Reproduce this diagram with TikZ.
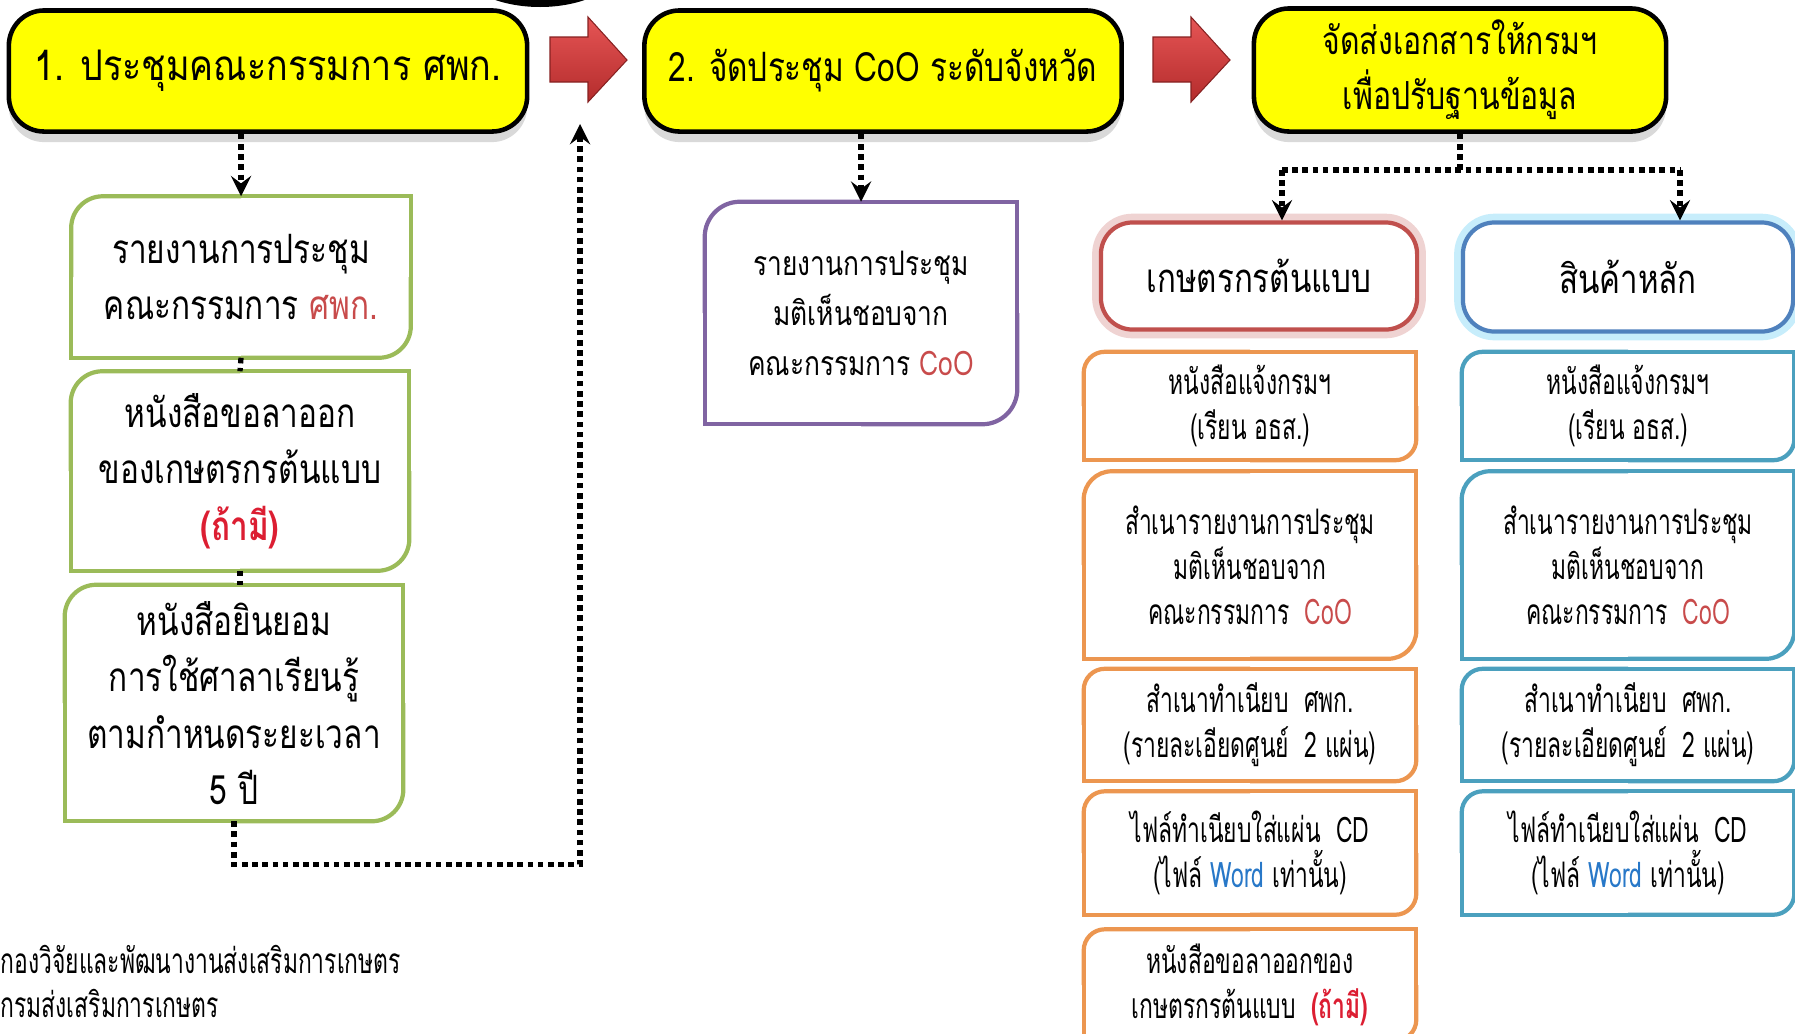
\documentclass[tikz,border=0pt]{standalone}
\usepackage{fontspec}
\setmainfont[Script=Thai]{Loma}
\newfontfamily\titrefont[Script=Thai,FakeStretch=0.85]{Loma}
\newfontfamily\moyenne[Script=Thai,FakeStretch=0.78]{Loma}
\newfontfamily\etroite[Script=Thai,FakeStretch=0.65]{Loma}
\usepackage{tikz}
\usetikzlibrary{shadows}
\usepackage{xcolor}
\definecolor{jaune}{RGB}{255,255,0}
\definecolor{vertbord}{RGB}{155,187,89}
\definecolor{mauve}{RGB}{128,100,162}
\definecolor{orangebord}{RGB}{236,150,80}
\definecolor{bleubord}{RGB}{75,160,190}
\definecolor{rougebord}{RGB}{192,80,77}
\definecolor{bleutete}{RGB}{79,129,189}
\definecolor{rougetexte}{RGB}{200,75,75}
\definecolor{rougevif}{RGB}{220,30,50}
\definecolor{bleutexte}{RGB}{40,120,200}
\definecolor{flecherouge}{RGB}{225,55,55}

\begin{document}
\begin{tikzpicture}[x=0.01cm,y=-0.01cm]
% Les styles des boîtes et des flèches
\tikzstyle{titre}=[draw=black,line width=1.3pt,fill=jaune,rounded corners=10pt,
  drop shadow={opacity=0.3,shadow xshift=0pt,shadow yshift=-3pt},
  align=center,inner sep=0pt,font=\titrefont\fontsize{12}{16}\selectfont]
\tikzstyle{doc}=[align=center,inner sep=0pt,font=\moyenne\fontsize{11.5}{16}\selectfont]
\tikzstyle{piece}=[align=center,inner sep=0pt,font=\etroite\fontsize{10}{12.8}\selectfont]
\tikzstyle{tete}=[draw,line width=1.2pt,rounded corners=9pt,fill=white,
  inner sep=0pt,font=\moyenne\fontsize{11.4}{14}\selectfont]
\tikzstyle{trait}=[line width=1.5pt,dash pattern=on 1.6pt off 1.3pt]
\tikzstyle{fleche}=[trait,->,>=stealth]

\path[use as bounding box,clip] (0,0) rectangle (1795,1033);
\fill[black] (540,-40) ellipse (85 and 47);

% Les trois étapes
\node[titre,minimum width=5.18cm,minimum height=1.21cm] (titre1) at (268,71) {1. ประชุมคณะกรรมการ ศพก.};
\node[titre,minimum width=4.77cm,minimum height=1.21cm,font=\moyenne\fontsize{11.5}{16}\selectfont] (titre2) at (883,71) {2. จัดประชุม CoO ระดับจังหวัด};
\node[titre,minimum width=4.12cm,minimum height=1.23cm,font=\moyenne\fontsize{11}{15.6}\selectfont] (titre3) at (1460,70) {จัดส่งเอกสารให้กรมฯ\\เพื่อปรับฐานข้อมูล};

% Les grosses flèches rouges
\foreach \dx in {0,603}{
  \draw[flecherouge!60!black,line width=0.3pt,top color=flecherouge!85!white,bottom color=flecherouge!80!black,xshift=\dx*0.01cm]
    (550,37) -- (588,37) -- (588,17) -- (627,60) -- (588,102) -- (588,82) -- (550,82) -- cycle;
}

% Les documents de l'étape 1
\node[doc,minimum width=3.38cm,minimum height=1.60cm] (vert1) at (241,277) {รายงานการประชุม\\คณะกรรมการ \textcolor{rougetexte}{ศพก.}};
\node[doc,minimum width=3.37cm,minimum height=1.98cm] (vert2) at (240,471) {หนังสือขอลาออก\\ของเกษตรกรต้นแบบ\\\textcolor{rougevif}{\textbf{(ถ้ามี)}}};
\node[doc,minimum width=3.37cm,minimum height=2.35cm] (vert3) at (234,703) {หนังสือยินยอม\\การใช้ศาลาเรียนรู้\\ตามกำหนดระยะเวลา\\5 ปี};

% Le document de l'étape 2
\node[doc,minimum width=3.11cm,minimum height=2.21cm,font=\moyenne\fontsize{9.6}{14.2}\selectfont] (avis) at (861,313) {รายงานการประชุม\\มติเห็นชอบจาก\\คณะกรรมการ \textcolor{rougetexte}{CoO}};

% Les deux en-têtes de l'étape 3
\node[tete,draw=rougebord,preaction={draw=rougebord!25,line width=5pt},minimum width=3.16cm,minimum height=1.07cm] (tete1) at (1259,276) {เกษตรกรต้นแบบ};
\node[tete,draw=bleutete,preaction={draw=cyan!22,line width=5pt},minimum width=3.30cm,minimum height=1.09cm] (tete2) at (1628,277) {สินค้าหลัก};

% Les pièces à envoyer, colonne par colonne
\foreach \col/\x in {o/1250, b/1628}{
  \node[piece,minimum width=3.31cm,minimum height=1.07cm] (\col1) at (\x,406) {หนังสือแจ้งกรมฯ\\(เรียน อธส.)};
  \node[piece,minimum width=3.31cm,minimum height=1.86cm] (\col2) at (\x,565) {สำเนารายงานการประชุม\\มติเห็นชอบจาก\\คณะกรรมการ \ \textcolor{rougetexte}{CoO}};
  \node[piece,minimum width=3.31cm,minimum height=1.11cm] (\col3) at (\x,725) {สำเนาทำเนียบ \ ศพก.\\(รายละเอียดศูนย์ \ 2 แผ่น)};
  \node[piece,minimum width=3.31cm,minimum height=1.22cm] (\col4) at (\x,853) {ไฟล์ทำเนียบใส่แผ่น \ CD\\(ไฟล์ \textcolor{bleutexte}{Word} เท่านั้น)};
}
\node[piece,minimum width=3.31cm,minimum height=1.10cm] (o5) at (1250,985) {หนังสือขอลาออกของ\\เกษตรกรต้นแบบ \ \textcolor{rougevif}{\textbf{(ถ้ามี)}}};

% Bords avec deux coins arrondis (en haut à gauche, en bas à droite)
\foreach \n/\c/\r in {vert1/vertbord/9pt, vert2/vertbord/9pt, vert3/vertbord/9pt, avis/mauve/10pt,
                      o1/orangebord/6pt, o2/orangebord/8pt, o3/orangebord/6pt, o4/orangebord/6pt, o5/orangebord/6pt,
                      b1/bleubord/6pt, b2/bleubord/8pt, b3/bleubord/6pt, b4/bleubord/6pt}{
  \draw[\c,line width=1.2pt,rounded corners=\r] (\n.north) -- (\n.north west) -- (\n.west)
    (\n.south) -- (\n.south east) -- (\n.east);
  \draw[\c,line width=1.2pt] (\n.west) -- (\n.south west) -- (\n.south)
    (\n.east) -- (\n.north east) -- (\n.north);
}

% Les liaisons en pointillés
\coordinate (retour) at (580,124);
\coordinate (g) at (1282,170);
\coordinate (d) at (1680,170);
\draw[fleche] (titre1.south -| vert1.north) -- (vert1.north);
\draw[trait] (vert1.south) -- (vert2.north);
\draw[trait] (vert2.south) -- (vert2.south |- vert3.north);
\draw[fleche] (vert3.south) -- ++(0,43) -| (retour);
\draw[fleche] (titre2.south -| avis.north) -- (avis.north);
\draw[trait] (titre3.south) -- (titre3.south |- g);
\draw[trait] (g) -- (d);
\draw[fleche] (g) -- (g |- tete1.north);
\draw[fleche] (d) -- (d |- tete2.north);

% Le pied de page
\node[anchor=west,inner sep=0pt,font=\etroite\fontsize{10}{12}\selectfont] (pied1) at (0,959) {กองวิจัยและพัฒนางานส่งเสริมการเกษตร};
\node[anchor=west,inner sep=0pt,font=\etroite\fontsize{10}{12}\selectfont] (pied2) at (0,1003) {กรมส่งเสริมการเกษตร};
\end{tikzpicture}
\end{document}
